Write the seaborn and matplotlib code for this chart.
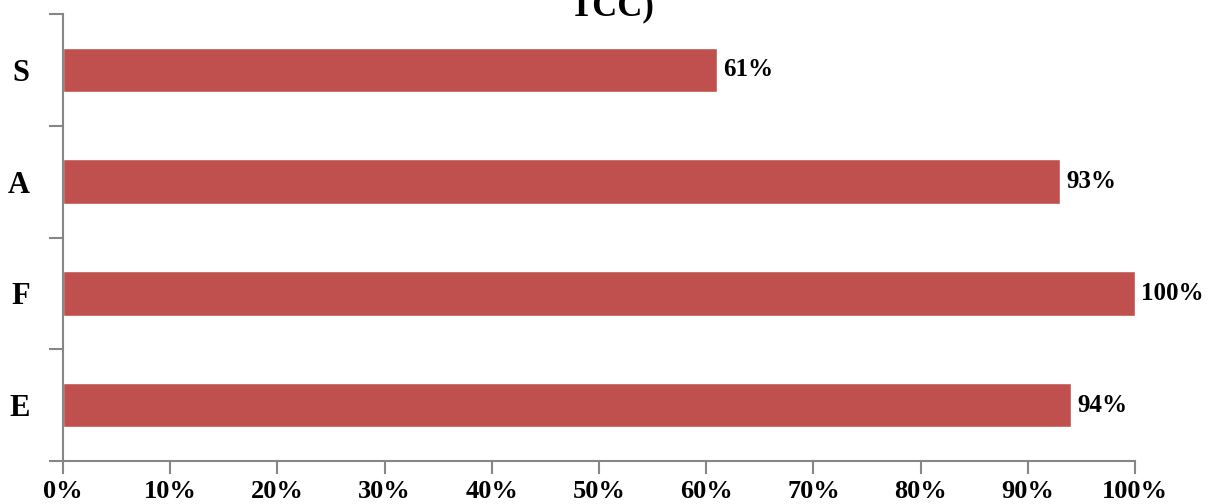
import matplotlib
matplotlib.use("Agg")
import matplotlib.pyplot as plt
import seaborn as sns
import pandas as pd
import numpy as np

categories = ["S", "A", "F", "E"]
values = [61, 93, 100, 94]
x_ticks = [0, 10, 20, 30, 40, 50, 60, 70, 80, 90, 100]
x_tick_labels = [f"{t}%" for t in x_ticks]
title_tail = "TCC)"

sns.set_style("white")
plt.rcParams["font.family"] = ["Liberation Serif", "DejaVu Serif"]
plt.rcParams["font.weight"] = "bold"
plt.rcParams["text.color"] = "black"
plt.rcParams["xtick.color"] = "black"
plt.rcParams["ytick.color"] = "black"

df = pd.DataFrame({"category": categories, "value": values})

fig = plt.figure(figsize=(12.11, 5.04), dpi=100)
ax = fig.add_axes([63 / 1211, 1 - 461 / 504, (1135 - 63) / 1211, (461 - 14) / 504])

sns.barplot(data=df, x="value", y="category", order=categories, orient="h",
            color="#C0504D", saturation=1, width=0.4, ax=ax)

ax.set_xlim(0, 100)
ax.set_ylim(3.5, -0.5)
ax.set_xlabel("")
ax.set_ylabel("")

# value labels at bar ends
for i, v in enumerate(values):
    ax.text(v + 0.6, i, f"{v}%", va="center", ha="left",
            fontsize=18, fontweight="bold", color="black")

ax.set_xticks(x_ticks)
ax.set_xticklabels(x_tick_labels, fontsize=19, fontweight="bold")
ax.set_yticks(range(len(categories)))
ax.set_yticklabels(categories, fontsize=22, fontweight="bold")
ax.tick_params(axis="y", which="major", left=False, length=0, pad=24)
ax.set_yticks(np.arange(-0.5, len(categories), 1), minor=True)
ax.tick_params(axis="y", which="minor", left=True, length=10, width=1.5,
               color="#868686", direction="out")
ax.tick_params(axis="x", which="major", bottom=True, length=9, width=1.5,
               color="#868686", labelcolor="black", direction="out", pad=5)

for side in ["top", "right"]:
    ax.spines[side].set_visible(False)
for side in ["left", "bottom"]:
    ax.spines[side].set_color("#868686")
    ax.spines[side].set_linewidth(1.5)

fig.text(612 / 1211, 1 - 15 / 504, title_tail, ha="center", va="baseline",
         fontsize=25, fontweight="bold")

fig.savefig("out.png", dpi=100)
